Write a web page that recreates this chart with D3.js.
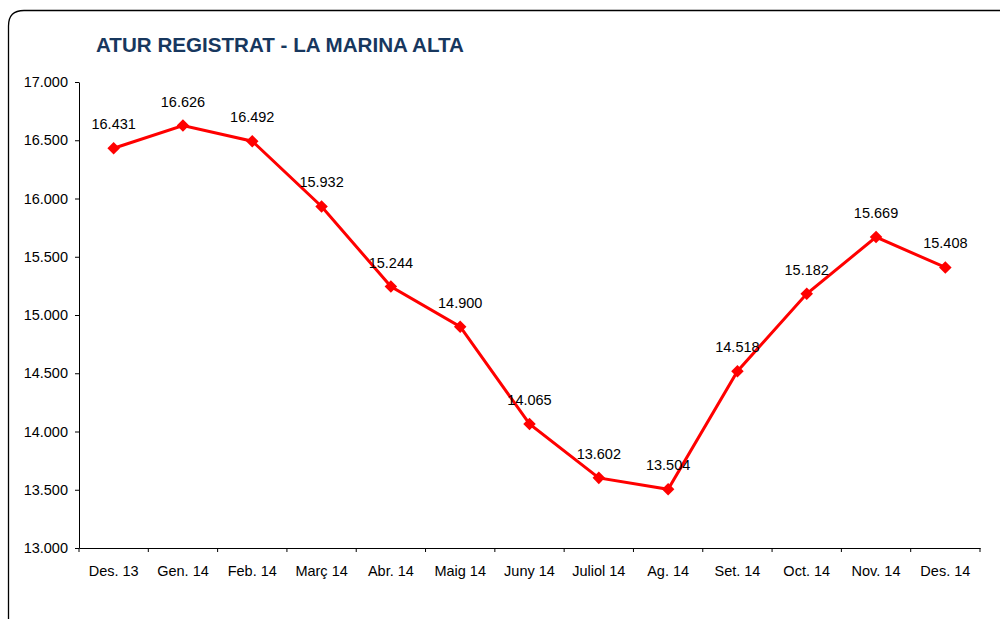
<!DOCTYPE html>
<html><head><meta charset="utf-8">
<script src="https://cdn.jsdelivr.net/npm/d3@7"></script>
<style>body{margin:0;background:#fff}svg{display:block}</style>
</head><body>
<svg id="c" width="1000" height="619"></svg>
<script>
const categories = ["Des. 13","Gen. 14","Feb. 14","Març 14","Abr. 14","Maig 14","Juny 14","Juliol 14","Ag. 14","Set. 14","Oct. 14","Nov. 14","Des. 14"];
const values = [16431,16626,16492,15932,15244,14900,14065,13602,13504,14518,15182,15669,15408];
const yTicks = [13000,13500,14000,14500,15000,15500,16000,16500,17000];
const title = "ATUR REGISTRAT - LA MARINA ALTA";

(function(){
const svg = d3.select("#c");
const font = "Liberation Sans, Arial, sans-serif";
const fmtN = v => { const s = String(v); return s.slice(0, s.length-3) + "." + s.slice(-3); };

// frame
svg.append("path")
  .attr("d", "M8.5,640 L8.5,26 Q8.5,10.5 24,10.5 L1010,10.5")
  .attr("fill","none").attr("stroke","#000").attr("stroke-width",1.3);

svg.append("text").attr("x",96).attr("y",52).attr("font-family",font)
  .attr("font-size",20.6).attr("font-weight","bold").attr("fill","#17375E").text(title);

const mL = 79, mR = 980, mT = 82, mB = 548;
const x = d3.scaleBand().domain(categories).range([mL,mR]);
const y = d3.scaleLinear().domain([13000,17000]).range([mB,mT]);

const yAxis = svg.append("g").attr("transform",`translate(${mL},0)`)
  .call(d3.axisLeft(y).tickValues(yTicks).tickSize(4).tickSizeOuter(0).tickPadding(7).tickFormat(fmtN));
const xAxis = svg.append("g").attr("transform",`translate(0,${mB})`)
  .call(d3.axisBottom(x).tickSize(0).tickSizeOuter(0).tickPadding(18));
const edges = categories.map(c => x(c)).concat([mR]);
xAxis.selectAll(".edge").data(edges).enter().append("line")
  .attr("x1",d=>d).attr("x2",d=>d).attr("y1",0).attr("y2",4).attr("stroke","#000");

[yAxis,xAxis].forEach(g=>{
  g.selectAll("text").attr("font-family",font).attr("font-size",14.5).attr("fill","#000");
  g.selectAll("path,line").attr("stroke","#000");
});

const cx = d => x(d.c) + x.bandwidth()/2;
const data = categories.map((c,i)=>({c, v: values[i]}));

svg.append("path").datum(data)
  .attr("d", d3.line().x(cx).y(d=>y(d.v)))
  .attr("fill","none").attr("stroke","#FF0000").attr("stroke-width",3);

svg.selectAll(".m").data(data).enter().append("path")
  .attr("transform", d=>`translate(${cx(d)},${y(d.v)})`)
  .attr("d", d3.symbol().type(d3.symbolDiamond2).size(100))
  .attr("fill","#FF0000");

svg.selectAll(".lbl").data(data).enter().append("text")
  .attr("x", cx).attr("y", d=>y(d.v)-19)
  .attr("text-anchor","middle").attr("font-family",font).attr("font-size",14.5).attr("fill","#000")
  .text(d=>fmtN(d.v));
})();
</script>
</body></html>
